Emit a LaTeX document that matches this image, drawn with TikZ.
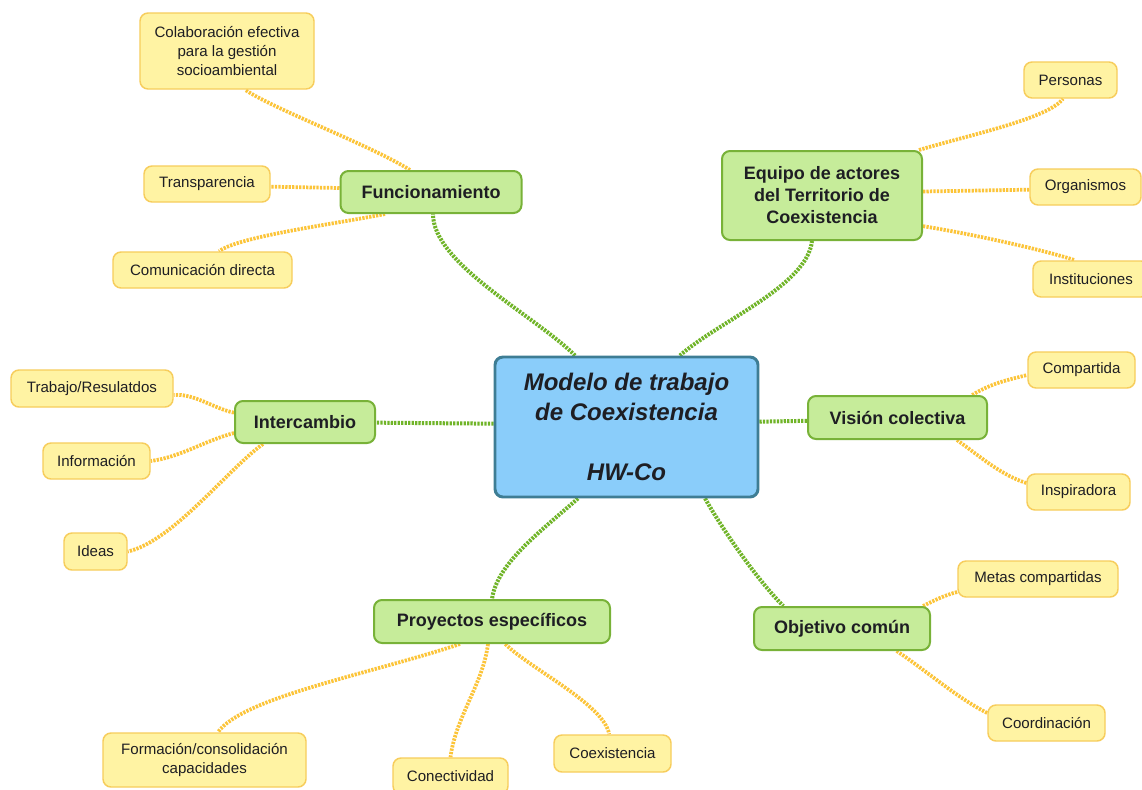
\documentclass[tikz,border=0pt]{standalone}
\usepackage{fontspec}
\setmainfont{Liberation Sans}
\usetikzlibrary{backgrounds}

\definecolor{txt}{RGB}{30,30,35}
\definecolor{blueFill}{RGB}{138,205,250}
\definecolor{blueLine}{RGB}{62,125,148}
\definecolor{greenFill}{RGB}{198,236,154}
\definecolor{greenLine}{RGB}{120,178,56}
\definecolor{greenLink}{RGB}{112,180,40}
\definecolor{yellowFill}{RGB}{255,243,163}
\definecolor{yellowLine}{RGB}{247,205,92}
\definecolor{yellowLink}{RGB}{252,196,56}

\tikzset{
  core/.style={draw=blueLine, fill=blueFill, line width=2.2pt, rounded corners=6pt,
    inner sep=0pt, align=center, text=txt,
    font=\fontsize{18}{22.5}\selectfont\bfseries\itshape},
  topic/.style={draw=greenLine, fill=greenFill, line width=1.5pt, rounded corners=6pt,
    inner sep=0pt, align=center, text=txt,
    font=\fontsize{13.5}{16.5}\selectfont\bfseries},
  leaf/.style={draw=yellowLine, fill=yellowFill, line width=1.1pt, rounded corners=6pt,
    inner sep=0pt, align=center, text=txt,
    font=\fontsize{11.3}{14.25}\selectfont},
  mainlink/.style={draw=greenLink, line width=3pt, dash pattern=on 1.7pt off 0.9pt},
  leaflink/.style={draw=yellowLink, line width=2.8pt, dash pattern=on 1.7pt off 0.9pt},
}

\begin{document}
\begin{tikzpicture}[x=0.75pt, y=-0.75pt]
\useasboundingbox (0,0) rectangle (1142,789);

% central model
\node[core, minimum width=197.25pt, minimum height=105pt] (c) at (626.5,427)
  {Modelo de trabajo\\de Coexistencia\\[22.5pt]HW-Co};

% main topics
\node[topic, minimum width=135.75pt, minimum height=31.5pt] (func) at (431,192) {Funcionamiento};
\node[topic, minimum width=150pt, minimum height=66.75pt] (equipo) at (822,195.5)
  {Equipo de actores\\del Territorio de\\Coexistencia};
\node[topic, minimum width=105pt, minimum height=31.5pt] (inter) at (305,422) {Intercambio};
\node[topic, minimum width=134.25pt, minimum height=32.25pt] (vis) at (897.5,417.5) {Visión colectiva};
\node[topic, minimum width=177pt, minimum height=32.25pt] (proy) at (492,621.5) {Proyectos específicos};
\node[topic, minimum width=132pt, minimum height=32.25pt] (obj) at (842,628.5) {Objetivo común};

% details
\node[leaf, minimum width=130.5pt, minimum height=57pt] (colab) at (227,51)
  {Colaboración efectiva\\para la gestión\\socioambiental};
\node[leaf, minimum width=94.5pt, minimum height=27pt] (trans) at (207,184) {Transparencia};
\node[leaf, minimum width=134.25pt, minimum height=27pt] (comu) at (202.5,270) {Comunicación directa};

\node[leaf, minimum width=69.75pt, minimum height=27pt] (pers) at (1070.5,80) {Personas};
\node[leaf, minimum width=83.25pt, minimum height=27pt] (org) at (1085.5,187) {Organismos};
\node[leaf, minimum width=87pt, minimum height=27pt] (inst) at (1091,279) {Instituciones};

\node[leaf, minimum width=121.5pt, minimum height=27.75pt] (trab) at (92,388.5) {Trabajo/Resulatdos};
\node[leaf, minimum width=80.25pt, minimum height=27pt] (info) at (96.5,461) {Información};
\node[leaf, minimum width=47.25pt, minimum height=27.75pt] (ideas) at (95.5,551.5) {Ideas};

\node[leaf, minimum width=80.25pt, minimum height=27pt] (comp) at (1081.5,370) {Compartida};
\node[leaf, minimum width=77.25pt, minimum height=27pt] (insp) at (1078.5,492) {Inspiradora};

\node[leaf, minimum width=152.25pt, minimum height=40.5pt] (form) at (204.5,760) {Formación/consolidación\\capacidades};
\node[leaf, minimum width=86.25pt, minimum height=27pt] (conect) at (450.5,776) {Conectividad};
\node[leaf, minimum width=87.75pt, minimum height=27.75pt] (coex) at (612.5,753.5) {Coexistencia};

\node[leaf, minimum width=120pt, minimum height=27pt] (metas) at (1038,579) {Metas compartidas};
\node[leaf, minimum width=87.75pt, minimum height=27pt] (coord) at (1046.5,723) {Coordinación};

\begin{scope}[on background layer]
  \fill[white] (0,0) rectangle (1142,789);

  % central model to topics
  \draw[mainlink] ([xshift=-38.6pt]c.north) .. controls +(-40,-40) and +(0,50) .. ([xshift=1.5pt]func.south);
  \draw[mainlink] ([xshift=40pt]c.north) .. controls +(40,-35) and +(-5,45) .. ([xshift=-7.5pt]equipo.south);
  \draw[mainlink] ([yshift=2.5pt]c.west) -- ([yshift=-0.5pt]inter.east);
  \draw[mainlink] ([yshift=4pt]c.east) -- ([yshift=-2.5pt]vis.west);
  \draw[mainlink] ([xshift=-36.4pt]c.south) .. controls +(-40,35) and +(5,-35) .. (proy.north);
  \draw[mainlink] ([xshift=58.9pt]c.south) .. controls +(20,35) and +(-25,-25) .. ([xshift=-44pt]obj.north);

  % Funcionamiento
  \draw[leaflink] ([xshift=-15.75pt]func.north) .. controls +(-40,-25) and +(30,20) .. ([xshift=13.5pt]colab.south);
  \draw[leaflink] ([yshift=3pt]func.west) -- ([yshift=-2pt]trans.east);
  \draw[leaflink] ([xshift=-34.5pt]func.south) .. controls +(-50,10) and +(20,-15) .. ([xshift=12.4pt]comu.north);

  % Equipo de actores
  \draw[leaflink] ([xshift=-3pt]equipo.north east) .. controls +(50,-15) and +(-15,20) .. ([xshift=-5.6pt]pers.south);
  \draw[leaflink] ([yshift=3pt]equipo.east) -- ([yshift=-2pt]org.west);
  \draw[leaflink] ([yshift=-23pt]equipo.east) .. controls +(50,8) and +(-30,-10) .. ([xshift=-12pt]inst.north);

  % Intercambio
  \draw[leaflink] ([yshift=7pt]inter.west) .. controls +(-20,-4) and +(20,-2) .. ([yshift=-4.9pt]trab.east);
  \draw[leaflink] ([yshift=-8.25pt]inter.west) .. controls +(-30,8) and +(30,-4) .. (info.east);
  \draw[leaflink] ([xshift=-31.5pt]inter.south) .. controls +(-35,25) and +(45,-10) .. (ideas.east);

  % Visión colectiva
  \draw[leaflink] ([xshift=56pt]vis.north) .. controls +(20,-12) and +(-20,5) .. ([yshift=-3.75pt]comp.west);
  \draw[leaflink] ([xshift=44.6pt]vis.south) .. controls +(25,18) and +(-25,-8) .. ([yshift=6.75pt]insp.west);

  % Proyectos específicos
  \draw[leaflink] ([xshift=-24pt]proy.south) .. controls +(-90,30) and +(25,-35) .. ([xshift=10pt]form.north);
  \draw[leaflink] ([xshift=-3pt]proy.south) .. controls +(-5,40) and +(5,-40) .. (conect.north);
  \draw[leaflink] ([xshift=10pt]proy.south) .. controls +(25,25) and +(-5,-30) .. ([xshift=-2.5pt]coex.north);

  % Objetivo común
  \draw[leaflink] ([xshift=-6pt]obj.north east) .. controls +(12,-6) and +(-12,3) .. ([yshift=-9.75pt]metas.west);
  \draw[leaflink] ([xshift=41pt]obj.south) .. controls +(30,20) and +(-30,-15) .. ([yshift=7.5pt]coord.west);
\end{scope}
\end{tikzpicture}
\end{document}
